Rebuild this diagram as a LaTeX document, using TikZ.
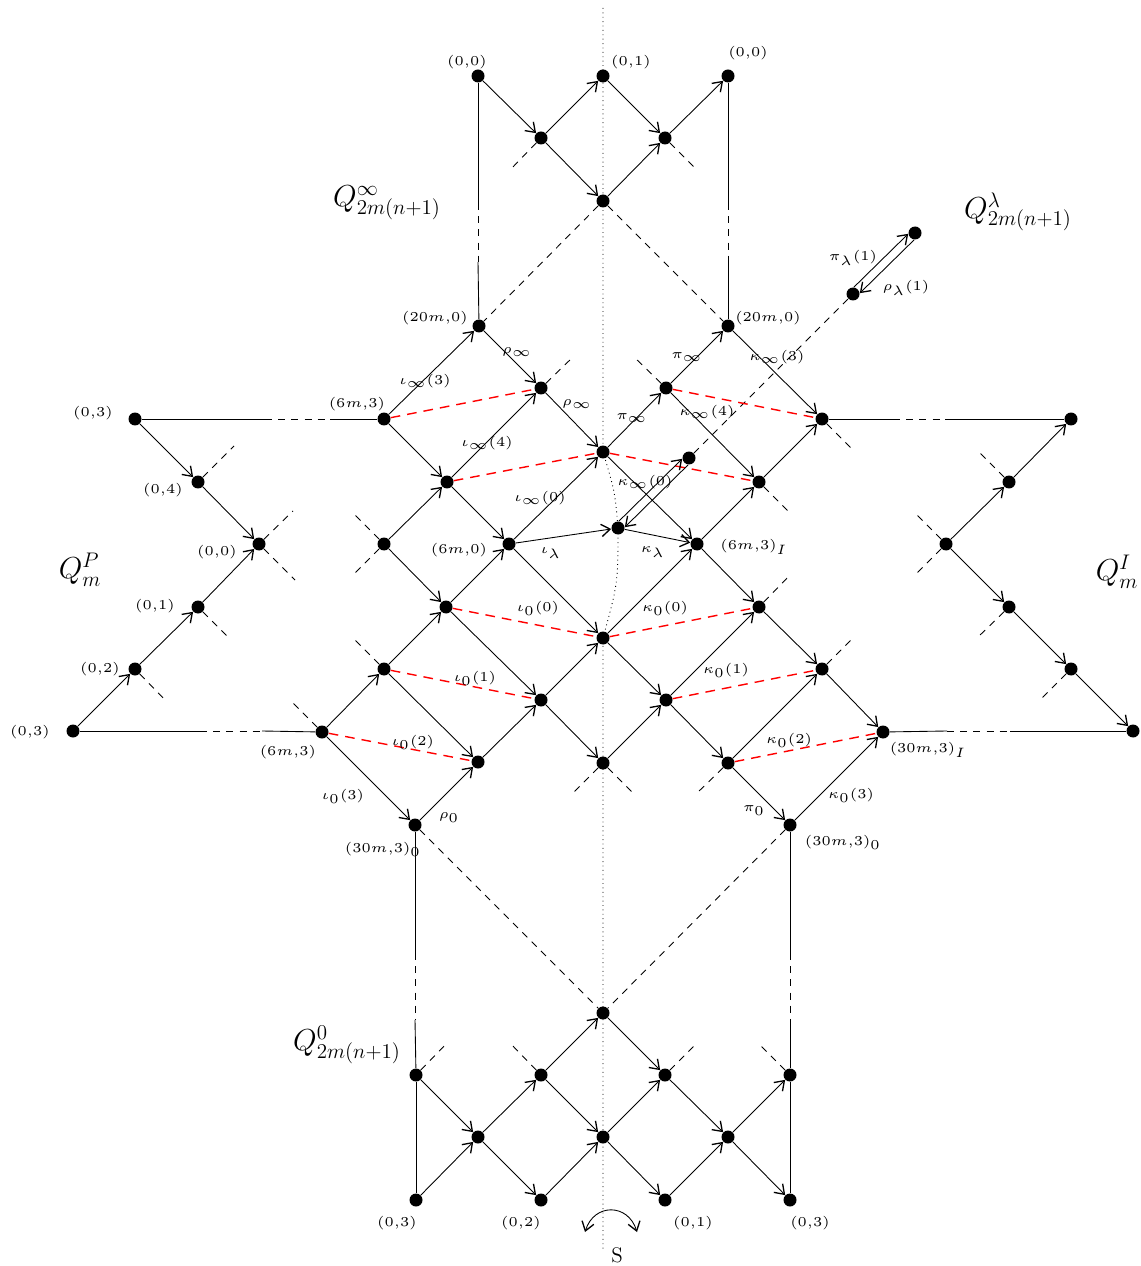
\documentclass[tikz,border=0pt]{standalone}
\usepackage{graphicx}
\usetikzlibrary{arrows.meta}
\newcommand{\smlab}[1]{\scalebox{1.55}{\tiny$#1$}}
\begin{document}
\begin{tikzpicture}[x=0.02cm,y=-0.02cm,
  dot/.style={circle,fill=black,inner sep=0pt,minimum size=0.26cm},
  tip/.style={},
  arr/.style={line width=0.5pt,-{Straight Barb[length=5pt,width=7pt,line width=0.75pt]}},
  ln/.style={line width=0.5pt},
  dsh/.style={line width=0.5pt,dash pattern=on 4pt off 3.5pt},
  rdsh/.style={red,line width=0.8pt,dash pattern=on 5.5pt off 4pt},
  lbl/.style={inner sep=0pt},
  big/.style={font=\LARGE,inner sep=0pt},
]
\useasboundingbox (0,0) rectangle (1141,1266);

% dotted symmetry axis
\coordinate (dtop) at (603,8);
\coordinate (dbot) at (603,1252);

% top part
\node[dot] (t1) at (478,76) {};
\node[dot] (t2) at (603,76) {};
\node[dot] (t3) at (728,76) {};
\node[dot] (ta) at (541,138) {};
\node[dot] (tb) at (665,138) {};
\node[dot] (tc) at (603,201) {};

% middle part
\node[dot] (L20) at (479,326) {};
\node[dot] (R20) at (728,326) {};
\node[dot] (A) at (384,419) {};
\node[dot] (B) at (541,388) {};
\node[dot] (C) at (666,388) {};
\node[dot] (D) at (822,419) {};
\node[dot] (E) at (603,452) {};
\node[dot] (F) at (447,482) {};
\node[dot] (G) at (759,482) {};
\node[dot] (H) at (689,458) {};
\node[dot] (I) at (509,544) {};
\node[dot] (J) at (618,528) {};
\node[dot] (K) at (697,544) {};
\node[dot] (L) at (384,544) {};
\node[dot] (M) at (446,607) {};
\node[dot] (N) at (603,638) {};
\node[dot] (O) at (759,607) {};
\node[dot] (P) at (384,669) {};
\node[dot] (Q) at (541,700) {};
\node[dot] (R) at (666,700) {};
\node[dot] (S) at (822,669) {};
\node[dot] (U) at (322,732) {};
\node[dot] (V) at (478,762) {};
\node[dot] (W) at (603,763) {};
\node[dot] (X) at (728,763) {};
\node[dot] (Y) at (883,732) {};
\node[dot] (Z0) at (415,825) {};
\node[dot] (Z1) at (790,825) {};

% left Q^P
\node[dot] (lp1) at (135,419) {};
\node[dot] (lp2) at (198,482) {};
\node[dot] (lp3) at (259,544) {};
\node[dot] (lp4) at (198,607) {};
\node[dot] (lp5) at (135,669) {};
\node[dot] (lp6) at (73,731) {};

% right Q^I
\node[dot] (rq1) at (1071,419) {};
\node[dot] (rq2) at (1009,482) {};
\node[dot] (rq3) at (946,544) {};
\node[dot] (rq4) at (1009,607) {};
\node[dot] (rq5) at (1071,669) {};
\node[dot] (rq6) at (1133,731) {};

% lambda
\node[dot] (la) at (853,294) {};
\node[dot] (lb) at (915,233) {};

% bottom part
\node[dot] (bc) at (603,1013) {};
\node[dot] (b1) at (416,1075) {};
\node[dot] (b2) at (541,1075) {};
\node[dot] (b3) at (665,1075) {};
\node[dot] (b4) at (790,1075) {};
\node[dot] (b5) at (478,1137) {};
\node[dot] (b6) at (603,1137) {};
\node[dot] (b7) at (728,1137) {};
\node[dot] (b8) at (416,1200) {};
\node[dot] (b9) at (541,1200) {};
\node[dot] (b10) at (665,1200) {};
\node[dot] (b11) at (790,1200) {};

% dotted axis
\draw[dotted,line width=0.5pt] (dtop) -- (E.center) .. controls +(12,40) .. (J.center) .. controls +(0,55) .. (N.center) -- (dbot);

% split lines: solid - dashed - solid
\coordinate (v1a) at (478,203); \coordinate (v1b) at (478,262);
\coordinate (v2a) at (728,203); \coordinate (v2b) at (728,262);
\draw[ln] (t1) -- (v1a); \draw[dsh] (v1a) -- (v1b); \draw[ln] (v1b) -- (L20);
\draw[ln] (t3) -- (v2a); \draw[dsh] (v2a) -- (v2b); \draw[ln] (v2b) -- (R20);
\coordinate (h1a) at (265,419); \coordinate (h1b) at (330,419);
\draw[ln] (lp1) -- (h1a); \draw[dsh] (h1a) -- (h1b); \draw[ln] (h1b) -- (A);
\coordinate (h2a) at (200,731); \coordinate (h2b) at (262,731);
\draw[ln] (lp6) -- (h2a); \draw[dsh] (h2a) -- (h2b); \draw[ln] (h2b) -- (U);
\coordinate (h3a) at (893,419); \coordinate (h3b) at (945,419);
\draw[ln] (D) -- (h3a); \draw[dsh] (h3a) -- (h3b); \draw[ln] (h3b) -- (rq1);
\coordinate (h4a) at (947,731); \coordinate (h4b) at (1010,731);
\draw[ln] (Y) -- (h4a); \draw[dsh] (h4a) -- (h4b); \draw[ln] (h4b) -- (rq6);
\coordinate (v3a) at (415,953); \coordinate (v3b) at (415,1020);
\coordinate (v4a) at (790,953); \coordinate (v4b) at (790,1020);
\draw[ln] (Z0) -- (v3a); \draw[dsh] (v3a) -- (v3b); \draw[ln] (v3b) -- (b1);
\draw[ln] (Z1) -- (v4a); \draw[dsh] (v4a) -- (v4b); \draw[ln] (v4b) -- (b4);
\draw[ln] (b1) -- (b8);
\draw[ln] (b4) -- (b11);

% long dashed lines
\draw[dsh] (tc) -- (L20);
\draw[dsh] (tc) -- (R20);
\draw[dsh] (Z0) -- (bc);
\draw[dsh] (Z1) -- (bc);
\draw[dsh] (H) -- (la);

% stubs
\draw[dsh] (ta) -- ++(-31,32);
\draw[dsh] (tb) -- ++(32,32);
\draw[dsh] (B) -- ++(32,-31);
\draw[dsh] (C) -- ++(-32,-31);
\draw[dsh] (D) -- ++(31,31);
\draw[dsh] (G) -- ++(31,31);
\draw[dsh] (L) -- ++(-31,-31);
\draw[dsh] (L) -- ++(-31,31);
\draw[dsh] (O) -- ++(31,-32);
\draw[dsh] (P) -- ++(-30,-30);
\draw[dsh] (S) -- ++(31,-31);
\draw[dsh] (U) -- ++(-30,-30);
\draw[dsh] (W) -- ++(-30,30);
\draw[dsh] (W) -- ++(30,30);
\draw[dsh] (X) -- ++(-31,30);
\draw[dsh] (lp2) -- ++(36,-36);
\draw[dsh] (lp3) -- ++(34,-33);
\draw[dsh] (lp3) -- ++(36,36);
\draw[dsh] (lp4) -- ++(31,31);
\draw[dsh] (lp5) -- ++(32,33);
\draw[dsh] (rq2) -- ++(-32,-32);
\draw[dsh] (rq3) -- ++(-31,-31);
\draw[dsh] (rq3) -- ++(-31,31);
\draw[dsh] (rq4) -- ++(-31,30);
\draw[dsh] (rq5) -- ++(-31,31);
\draw[dsh] (b1) -- ++(31,-32);
\draw[dsh] (b2) -- ++(-31,-32);
\draw[dsh] (b3) -- ++(32,-32);
\draw[dsh] (b4) -- ++(-32,-32);

% red dashed
\draw[rdsh] (A) -- (B);
\draw[rdsh] (F) -- (E);
\draw[rdsh] (E) -- (G);
\draw[rdsh] (C) -- (D);
\draw[rdsh] (M) -- (N);
\draw[rdsh] (N) -- (O);
\draw[rdsh] (P) -- (Q);
\draw[rdsh] (R) -- (S);
\draw[rdsh] (U) -- (V);
\draw[rdsh] (X) -- (Y);

% arrows top
\draw[arr] (t1) -- (ta);
\draw[arr] (ta) -- (t2);
\draw[arr] (ta) -- (tc);
\draw[arr] (t2) -- (tb);
\draw[arr] (tc) -- (tb);
\draw[arr] (tb) -- (t3);

% arrows middle
\draw[arr] (A) -- (L20);
\draw[arr] (L20) -- (B);
\draw[arr] (A) -- (F);
\draw[arr] (F) -- (B);
\draw[arr] (B) -- (E);
\draw[arr] (F) -- (I);
\draw[arr] (L) -- (F);
\draw[arr] (L) -- (M);
\draw[arr] (I) -- (E);
\draw[arr] (I) -- (J);
\draw[arr] (J) -- (K);
\draw[arr] (J.83) -- (H.187);
\draw[arr] (H.263) -- (J.7);
\draw[arr] (E) -- (C);
\draw[arr] (C) -- (R20);
\draw[arr] (R20) -- (D);
\draw[arr] (C) -- (G);
\draw[arr] (G) -- (D);
\draw[arr] (E) -- (K);
\draw[arr] (K) -- (G);
\draw[arr] (K) -- (O);
\draw[arr] (I) -- (N);
\draw[arr] (M) -- (I);
\draw[arr] (N) -- (K);
\draw[arr] (M) -- (Q);
\draw[arr] (P) -- (M);
\draw[arr] (P) -- (V);
\draw[arr] (U) -- (P);
\draw[arr] (U) -- (Z0);
\draw[arr] (Z0) -- (V);
\draw[arr] (V) -- (Q);
\draw[arr] (Q) -- (N);
\draw[arr] (Q) -- (W);
\draw[arr] (N) -- (R);
\draw[arr] (W) -- (R);
\draw[arr] (R) -- (O);
\draw[arr] (R) -- (X);
\draw[arr] (O) -- (S);
\draw[arr] (X) -- (S);
\draw[arr] (S) -- (Y);
\draw[arr] (X) -- (Z1);
\draw[arr] (Z1) -- (Y);

% arrows left and right
\draw[arr] (lp1) -- (lp2);
\draw[arr] (lp2) -- (lp3);
\draw[arr] (lp6) -- (lp5);
\draw[arr] (lp5) -- (lp4);
\draw[arr] (lp4) -- (lp3);
\draw[arr] (rq3) -- (rq2);
\draw[arr] (rq2) -- (rq1);
\draw[arr] (rq3) -- (rq4);
\draw[arr] (rq4) -- (rq5);
\draw[arr] (rq5) -- (rq6);

% lambda pair
\draw[arr] (la.83) -- (lb.187);
\draw[arr] (lb.263) -- (la.7);

% arrows bottom
\draw[arr] (b1) -- (b5);
\draw[arr] (b8) -- (b5);
\draw[arr] (b5) -- (b2);
\draw[arr] (b5) -- (b9);
\draw[arr] (b2) -- (b6);
\draw[arr] (b9) -- (b6);
\draw[arr] (b6) -- (b3);
\draw[arr] (b6) -- (b10);
\draw[arr] (b3) -- (b7);
\draw[arr] (b10) -- (b7);
\draw[arr] (b7) -- (b4);
\draw[arr] (b7) -- (b11);
\draw[arr] (b2) -- (bc);
\draw[arr] (bc) -- (b3);

% S swap arrow
\coordinate (sa) at (585,1232);
\coordinate (sb) at (637,1232);
\draw[line width=0.5pt,{Straight Barb[length=5pt,width=7pt,line width=0.75pt]}-{Straight Barb[length=5pt,width=7pt,line width=0.75pt]}] (sa) .. controls (594,1203) and (628,1203) .. (sb);
\node[lbl,font=\large] (sl) at (617,1255) {S};

% big labels
\node[big] (qinf) at (387,203) {$Q^{\infty}_{2m(n+1)}$};
\node[big] (qlam) at (1018,212) {$Q^{\lambda}_{2m(n+1)}$};
\node[big] (qzero) at (347,1045) {$Q^{0}_{2m(n+1)}$};
\node[big] (qp) at (80,570) {$Q^{P}_{m}$};
\node[big] (qi) at (1117,572) {$Q^{I}_{m}$};

% small labels
\node[lbl] (x1) at (467,62) {\smlab{(0{,}0)}};
\node[lbl] (x2) at (631,62) {\smlab{(0{,}1)}};
\node[lbl] (x3) at (748,53) {\smlab{(0{,}0)}};
\node[lbl] (x4) at (435,318) {\smlab{(20m{,}0)}};
\node[lbl] (x5) at (768,318) {\smlab{(20m{,}0)}};
\node[lbl] (x6) at (425,381) {\smlab{\iota_\infty(3)}};
\node[lbl] (x7) at (517,352) {\smlab{\rho_\infty}};
\node[lbl] (x8) at (687,357) {\smlab{\pi_\infty}};
\node[lbl] (x9) at (777,357) {\smlab{\kappa_\infty(3)}};
\node[lbl] (x10) at (357,404) {\smlab{(6m{,}3)}};
\node[lbl] (x11) at (577,404) {\smlab{\rho_\infty}};
\node[lbl] (x12) at (487,443) {\smlab{\iota_\infty(4)}};
\node[lbl] (x13) at (540,498) {\smlab{\iota_\infty(0)}};
\node[lbl] (x14) at (459,550) {\smlab{(6m{,}0)}};
\node[lbl] (x15) at (551,553) {\smlab{\iota_\lambda}};
\node[lbl] (x16) at (632,418) {\smlab{\pi_\infty}};
\node[lbl] (x17) at (707,412) {\smlab{\kappa_\infty(4)}};
\node[lbl] (x18) at (645,482) {\smlab{\kappa_\infty(0)}};
\node[lbl] (x19) at (653,552) {\smlab{\kappa_\lambda}};
\node[lbl] (x20) at (754,547) {\smlab{(6m{,}3)_I}};
\node[lbl] (x21) at (93,413) {\smlab{(0{,}3)}};
\node[lbl] (x22) at (163,490) {\smlab{(0{,}4)}};
\node[lbl] (x23) at (217,552) {\smlab{(0{,}0)}};
\node[lbl] (x24) at (155,606) {\smlab{(0{,}1)}};
\node[lbl] (x25) at (100,669) {\smlab{(0{,}2)}};
\node[lbl] (x26) at (30,732) {\smlab{(0{,}3)}};
\node[lbl] (x27) at (288,752) {\smlab{(6m{,}3)}};
\node[lbl] (x28) at (853,258) {\smlab{\pi_\lambda(1)}};
\node[lbl] (x29) at (906,288) {\smlab{\rho_\lambda(1)}};
\node[lbl] (x30) at (538,608) {\smlab{\iota_0(0)}};
\node[lbl] (x31) at (475,678) {\smlab{\iota_0(1)}};
\node[lbl] (x32) at (413,742) {\smlab{\iota_0(2)}};
\node[lbl] (x33) at (343,796) {\smlab{\iota_0(3)}};
\node[lbl] (x34) at (449,818) {\smlab{\rho_0}};
\node[lbl] (x35) at (383,849) {\smlab{(30m{,}3)_0}};
\node[lbl] (x36) at (665,608) {\smlab{\kappa_0(0)}};
\node[lbl] (x37) at (726,670) {\smlab{\kappa_0(1)}};
\node[lbl] (x38) at (789,740) {\smlab{\kappa_0(2)}};
\node[lbl] (x39) at (851,795) {\smlab{\kappa_0(3)}};
\node[lbl] (x40) at (754,811) {\smlab{\pi_0}};
\node[lbl] (x41) at (843,842) {\smlab{(30m{,}3)_0}};
\node[lbl] (x42) at (928,750) {\smlab{(30m{,}3)_I}};
\node[lbl] (x43) at (397,1223) {\smlab{(0{,}3)}};
\node[lbl] (x44) at (521,1223) {\smlab{(0{,}2)}};
\node[lbl] (x45) at (693,1223) {\smlab{(0{,}1)}};
\node[lbl] (x46) at (810,1223) {\smlab{(0{,}3)}};
\end{tikzpicture}
\end{document}
